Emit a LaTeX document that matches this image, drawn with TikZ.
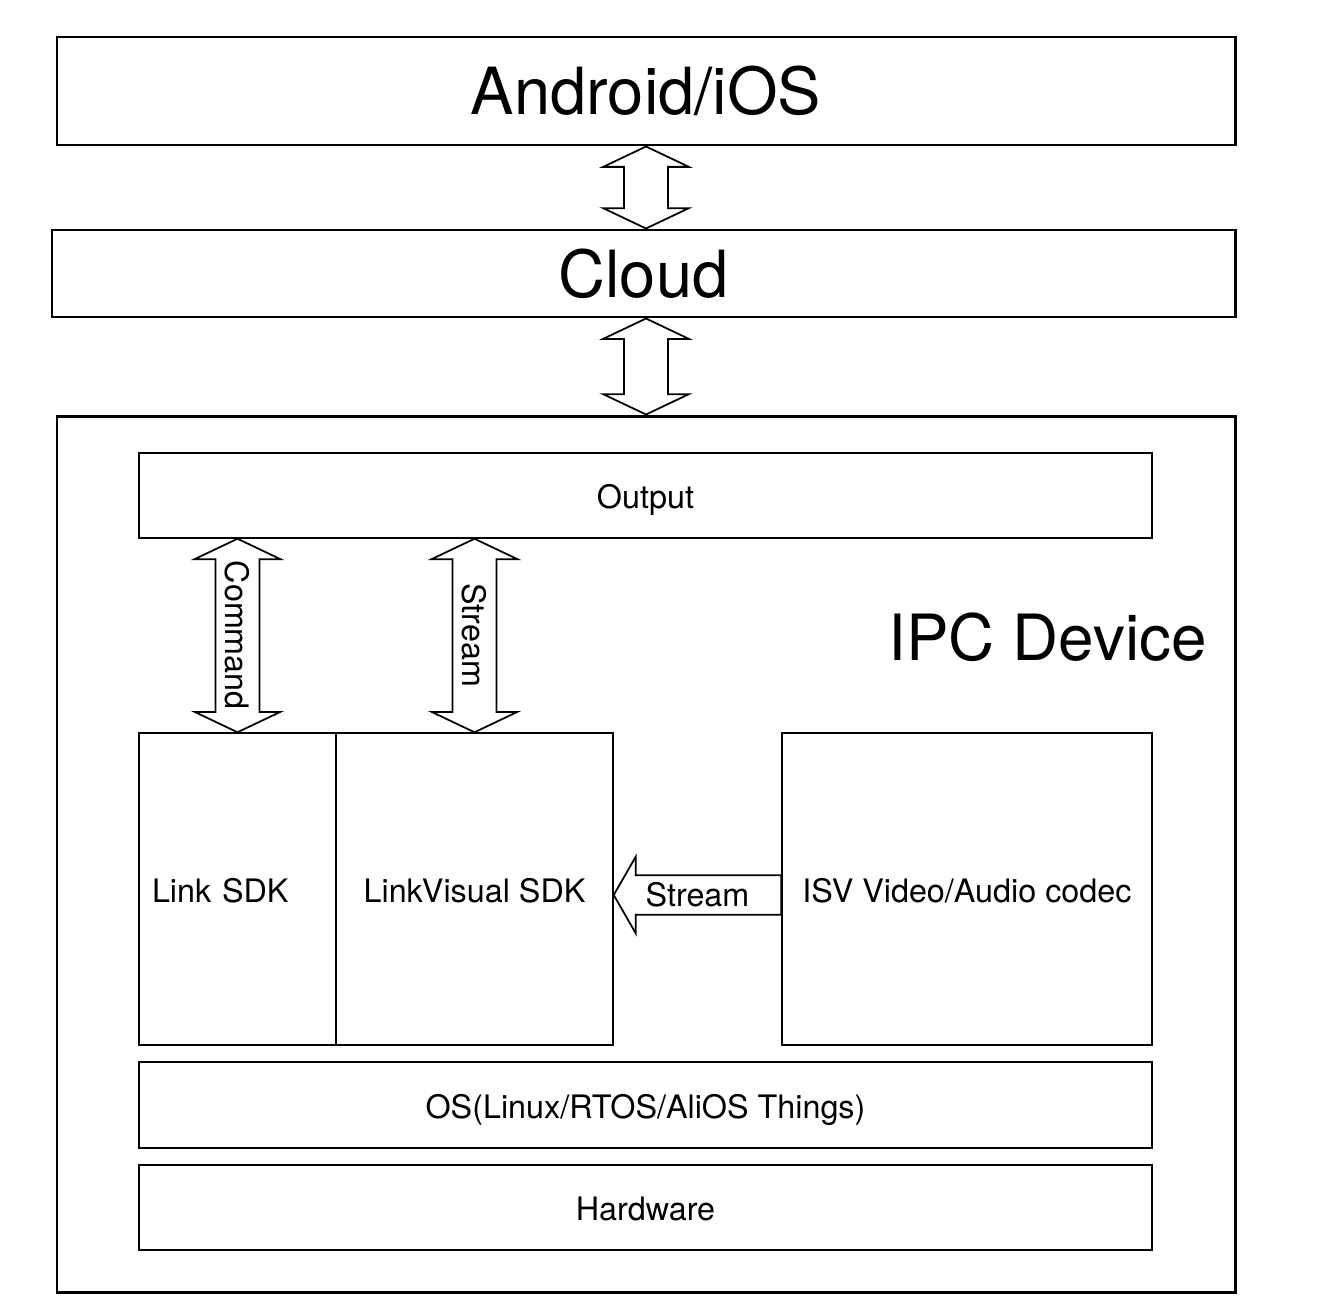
\documentclass[tikz,border=0pt]{standalone}
\usepackage{fontspec}
\setmainfont{TeX Gyre Heros}
\usepackage{tikz}
\usetikzlibrary{calc}
\newlength\pix
\setlength\pix{0.02cm}
% vertical double block arrow between two tips
\newcommand{\vblockarrow}[2]{%
  \draw[blockarrow] let \p1=(#1), \p2=(#2) in
    (\x1,\y1) -- (\x1+24.4pt,\y1-11.6pt) -- (\x1+12.5pt,\y1-11.6pt)
    -- (\x1+12.5pt,\y2+11.6pt) -- (\x1+24.4pt,\y2+11.6pt) -- (\x1,\y2)
    -- (\x1-24.4pt,\y2+11.6pt) -- (\x1-12.5pt,\y2+11.6pt)
    -- (\x1-12.5pt,\y1-11.6pt) -- (\x1-24.4pt,\y1-11.6pt) -- cycle;}

\begin{document}
\begin{tikzpicture}[x=0.02cm,y=-0.02cm,
  bigbox/.style={draw,line width=1.7pt,inner sep=0pt,font=\fontsize{37}{40}\selectfont},
  smallbox/.style={draw,line width=0.85pt,inner sep=0pt,text height=14.9pt,text depth=0pt,
    font=\fontsize{18.4}{21}\selectfont},
  blockarrow/.style={draw,line width=1pt,fill=white,line join=miter},
  arrowtext/.style={font=\fontsize{18.4}{21}\selectfont,inner sep=0pt,text height=13.2pt,text depth=0pt}]
  \useasboundingbox (0,0) rectangle (1318,1312);
  % top layers
  \node[bigbox,minimum width=1178\pix,minimum height=108\pix] (android) at (646,91) {Android/iOS};
  \node[bigbox,minimum width=1183\pix,minimum height=87\pix] (cloud) at (643.5,273.5) {Cloud};
  \node[bigbox,minimum width=1178\pix,minimum height=876\pix] (ipc) at (646,854) {};
  \node[font=\fontsize{36.3}{40}\selectfont,inner sep=0pt,anchor=east] (ipctext) at (1207,637) {IPC Device};
  % inside the device
  \node[smallbox,minimum width=1013\pix,minimum height=85\pix] (output) at (645.5,495.5) {Output};
  \node[smallbox,minimum width=197\pix,minimum height=312\pix,text width=171\pix,align=left] (linksdk) at (237.5,889) {Link SDK};
  \node[smallbox,minimum width=277\pix,minimum height=312\pix] (linkvis) at (474.5,889) {LinkVisual SDK};
  \node[smallbox,minimum width=370\pix,minimum height=312\pix] (isv) at (967,889) {ISV Video/Audio codec};
  \node[smallbox,minimum width=1013\pix,minimum height=86\pix] (os) at (645.5,1105) {OS(Linux/RTOS/AliOS Things)};
  \node[smallbox,minimum width=1013\pix,minimum height=85\pix] (hw) at (645.5,1207.5) {Hardware};
  % block arrows
  \vblockarrow{android.south}{android.south |- cloud.north}
  \vblockarrow{ipc.north |- cloud.south}{ipc.north}
  \vblockarrow{output.south -| linksdk.north}{linksdk.north}
  \vblockarrow{output.south -| linkvis.north}{linkvis.north}
  \node[arrowtext,rotate=-90] (cmdtext) at ($(linksdk.north)+(0,-97)$) {Command};
  \node[arrowtext,rotate=-90] (streamtext) at ($(linkvis.north)+(0,-97)$) {Stream};
  \coordinate (tip) at ($(linkvis.east)+(0,6)$);
  \coordinate (tail) at (isv.west |- tip);
  \draw[blockarrow] let \p1=(tip), \p2=(tail) in
    (\x1,\y1) -- (\x1+12.5pt,\y1+21.8pt) -- (\x1+12.5pt,\y1+11.3pt)
    -- (\x2,\y1+11.3pt) -- (\x2,\y1-11.3pt) -- (\x1+12.5pt,\y1-11.3pt)
    -- (\x1+12.5pt,\y1-21.8pt) -- cycle;
  \node[arrowtext] (hstream) at ($(tip)!0.5!(tail)$) {Stream};
\end{tikzpicture}
\end{document}
